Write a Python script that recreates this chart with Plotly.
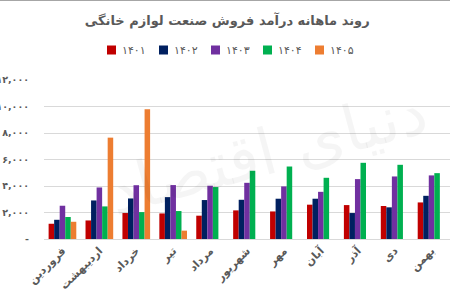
import plotly.graph_objects as go

months = ["فروردین", "اردیبهشت", "خرداد", "تیر", "مرداد", "شهریور",
          "مهر", "آبان", "آذر", "دی", "بهمن"]

s1401 = [1150, 1400, 1960, 1930, 1760, 2160, 2080, 2590, 2560, 2490, 2760]
s1402 = [1450, 2910, 3060, 3160, 2940, 2960, 3040, 3040, 1960, 2390, 3260]
s1403 = [2510, 3890, 4060, 4070, 4020, 4240, 3970, 3560, 4520, 4720, 4800]
s1404 = [1660, 2460, 2030, 2110, 3920, 5150, 5470, 4620, 5750, 5600, 4970]
s1405 = [1300, 7650, 9790, 630, None, None, None, None, None, None, None]

series_names = ["۱۴۰۱", "۱۴۰۲", "۱۴۰۳", "۱۴۰۴", "۱۴۰۵"]
series_values = [s1401, s1402, s1403, s1404, s1405]
colors = ["#C00000", "#002060", "#7030A0", "#00B050", "#ED7D31"]

y_tickvals = [0, 2000, 4000, 6000, 8000, 10000, 12000]
y_ticktext = ["-", "۲,۰۰۰", "۴,۰۰۰", "۶,۰۰۰", "۸,۰۰۰", "۱۰,۰۰۰", "۱۲,۰۰۰"]

title_text = "روند ماهانه درآمد فروش صنعت لوازم خانگی"

FONT = "DejaVu Sans, Noto Sans, sans-serif"
GREY = "#595959"

W, H = 450, 300
L, R, T, B = 44, 0, 80, 61
PW, PH = W - L - R, H - T - B


def px_x(px):
    return (px - L) / PW


def px_y(py):
    return (H - B - py) / PH


fig = go.Figure()
for name, vals, col in zip(series_names, series_values, colors):
    fig.add_trace(go.Bar(x=months, y=vals, name=name, marker_color=col,
                         marker_line_width=0, showlegend=False))

fig.update_layout(
    width=W, height=H,
    margin=dict(l=L, r=R, t=T, b=B),
    paper_bgcolor="white", plot_bgcolor="white",
    barmode="group", bargap=0.25, bargroupgap=0.0,
    font=dict(family=FONT, color=GREY),
    title=dict(text="<b>" + title_text + "</b>", x=0.505, xref="container",
               y=1 - 20 / 300, yref="container", yanchor="middle",
               xanchor="center", font=dict(size=13, color=GREY)),
    showlegend=False,
)
fig.update_xaxes(range=[-0.5, 10.5], tickangle=-45, automargin=False,
                 tickfont=dict(size=11, color=GREY, family=FONT, weight="bold"),
                 showline=True, linecolor="#D9D9D9", linewidth=1,
                 showgrid=False, ticks="")
fig.update_yaxes(range=[0, 12000], tickvals=y_tickvals, ticktext=y_ticktext,
                 automargin=False,
                 tickfont=dict(size=9.5, color=GREY, family=FONT, weight="bold"),
                 showgrid=True, gridcolor="#D9D9D9", gridwidth=1,
                 zeroline=False, ticklabelstandoff=14)

# legend drawn as squares + labels
leg_y = 50
for i, (name, col) in enumerate(zip(series_names, colors)):
    cx = 111.5 + i * 52
    fig.add_shape(type="rect", xref="paper", yref="paper",
                  x0=px_x(cx - 4.5), x1=px_x(cx + 4.5),
                  y0=px_y(leg_y + 4.5), y1=px_y(leg_y - 4.5),
                  fillcolor=col, line_width=0)
    fig.add_annotation(text=name, xref="paper", yref="paper",
                       x=px_x(cx + 8), y=px_y(leg_y), xanchor="left",
                       yanchor="middle", showarrow=False,
                       font=dict(size=11, color=GREY, family=FONT))

fig.add_annotation(text="دنیای اقتصاد", xref="paper", yref="paper",
                   x=0.55, y=0.55, showarrow=False, textangle=-15,
                   font=dict(size=64, color="rgba(0,0,0,0.04)", family=FONT))

fig.add_shape(type="line", xref="paper", yref="paper", x0=-0.2, x1=1.1,
              y0=px_y(0.5), y1=px_y(0.5),
              line=dict(color="#A6A6A6", width=1))

fig.write_html("out.html")
